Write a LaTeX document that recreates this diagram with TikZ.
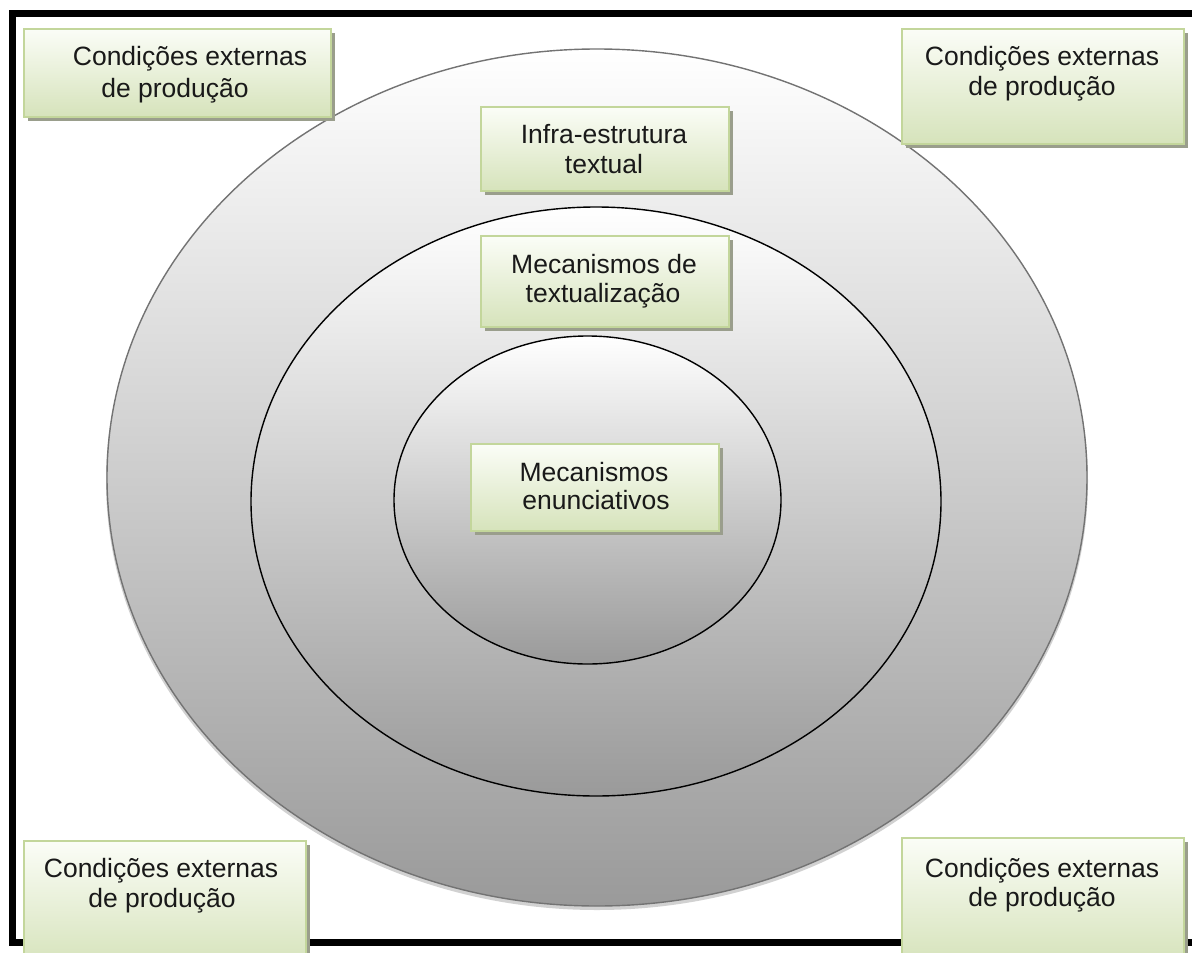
\documentclass[tikz,border=0pt]{standalone}
\usepackage{fontspec}
\setmainfont{Liberation Sans}
\usetikzlibrary{shapes.geometric,shadows}
\definecolor{boxtop}{HTML}{FBFDF7}
\definecolor{boxbot}{HTML}{D6E3BB}
\definecolor{boxline}{HTML}{C3D69B}
\definecolor{boxshadow}{HTML}{9A9E8C}
\definecolor{ringbot}{HTML}{9A9A9A}
\begin{document}
\begin{tikzpicture}[x=1pt,y=-1pt,
  panel/.style={draw=boxline, line width=1.5pt, top color=boxtop, bottom color=boxbot,
    inner sep=0pt, anchor=north west,
    drop shadow={shadow xshift=4pt, shadow yshift=-4pt, fill=boxshadow, opacity=1}},
  lbl/.style={anchor=base, inner sep=0pt, font=\fontsize{26.5}{31}\selectfont, text=black!90},
  ring/.style={ellipse, inner sep=0pt, top color=white, bottom color=ringbot, line width=1.4pt},
]
\useasboundingbox (0,0) rectangle (1192,953);
\fill[white] (0,0) rectangle (1192,953);

% frame
\draw[line width=7pt] (1200,13.5) -- (12.5,13.5) -- (12.5,942) -- (1200,942);

% ellipses
\fill[black, opacity=0.18] (597,481) ellipse [x radius=491pt, y radius=429pt];
\node[ring, draw=black!55, minimum width=980pt, minimum height=857pt] (outer) at (597,477.5) {};
\node[ring, draw=black, minimum width=690pt, minimum height=589pt] (middle) at (596,501.5) {};
\node[ring, draw=black, minimum width=387pt, minimum height=328pt] (inner) at (587.5,500) {};

% boxes
\node[panel, minimum width=307pt, minimum height=88pt] (tl) at (23,28) {};
\node[panel, minimum width=282pt, minimum height=115pt] (tr) at (901,28) {};
\node[panel, minimum width=282pt, minimum height=125pt] (bl) at (23,840) {};
\node[panel, minimum width=282pt, minimum height=125pt] (br) at (901,837) {};
\node[panel, minimum width=248pt, minimum height=84pt] (infra) at (480,106) {};
\node[panel, minimum width=248pt, minimum height=91pt] (mtext) at (480,235) {};
\node[panel, minimum width=248pt, minimum height=87pt] (menun) at (470,443) {};

% texts
\node[lbl] (tla) at (190,65) {Condições externas};
\node[lbl] (tlb) at (175,97) {de produção};
\node[lbl] (tra) at (1042,65) {Condições externas};
\node[lbl] (trb) at (1042,95) {de produção};
\node[lbl] (bla) at (161,877) {Condições externas};
\node[lbl] (blb) at (162,907) {de produção};
\node[lbl] (bra) at (1042,877) {Condições externas};
\node[lbl] (brb) at (1042,906) {de produção};
\node[lbl] (infa) at (604,143) {Infra-estrutura};
\node[lbl] (infb) at (604,173) {textual};
\node[lbl] (mta) at (604,273) {Mecanismos de};
\node[lbl] (mtb) at (603,302) {textualização};
\node[lbl] (mea) at (594,481) {Mecanismos};
\node[lbl] (meb) at (596,509) {enunciativos};
\end{tikzpicture}
\end{document}
